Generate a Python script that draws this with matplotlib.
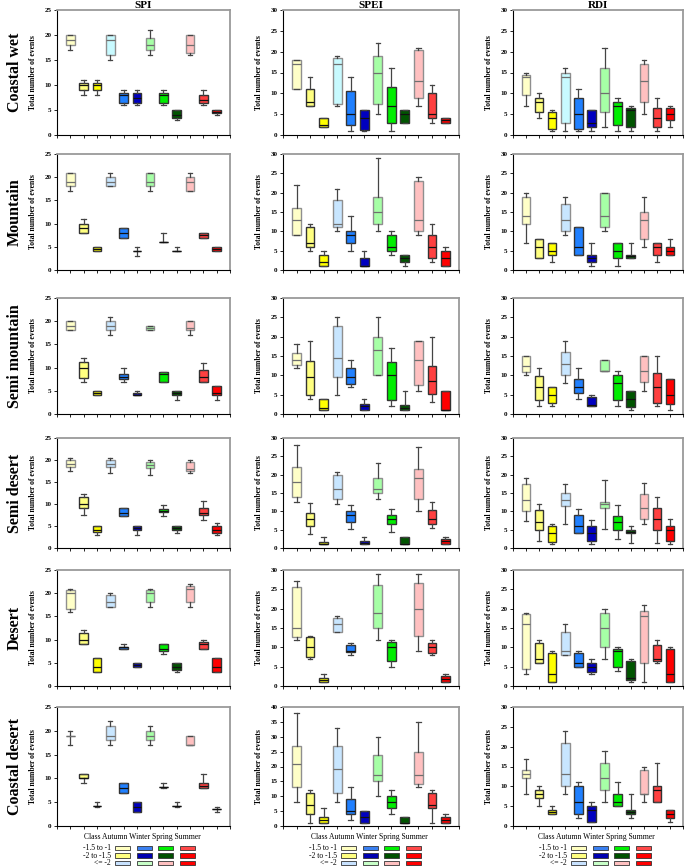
import matplotlib
matplotlib.use("Agg")
import matplotlib.pyplot as plt
from matplotlib.patches import Rectangle

plt.rcParams['font.family'] = ['Liberation Serif', 'DejaVu Serif']

regions = ["Coastal wet", "Mountain", "Semi mountain", "Semi desert", "Desert", "Coastal desert"]
indices = ["SPI", "SPEI", "RDI"]
season_text = ["Class", "Autumn", "Winter", "Spring", "Summer"]
legend_labels = ["-1.5 to -1", "-2 to -1.5", "<= -2"]

box_colors = ['#FFFFC8', '#FFFF80', '#FFFF00',
              '#C8E6FF', '#2080FF', '#0000C0',
              '#A6FFA6', '#00EE00', '#005500',
              '#FFC0C0', '#FF4040', '#FF0000']
first_row_light_blue = '#C8FAFF'
legend_colors = [['#FFFFC0', '#3A80F0', '#00F000', '#FF4848'],
                 ['#FFFF80', '#0000B0', '#005000', '#FF0000'],
                 ['#C8E2FF', '#C8FFC8', '#FFC0C0', '#FF0000']]

# each box: (whisker low, q1, median, q3, whisker high)
cw_spi = [(17, 18, 19, 20, 20), (8, 9, 10, 10.5, 11), (8, 9, 10, 10.5, 11),
          (15, 16, 19, 20, 20), (6, 6.5, 8, 8.5, 9), (6, 6.5, 7.5, 8.5, 9),
          (16, 17, 18, 19.5, 21), (6, 6.5, 8, 8.5, 9), (3, 3.5, 4, 5, 5),
          (16, 16.5, 18, 20, 20), (6, 6.5, 7, 8, 9), (4, 4.5, 4.7, 5, 5)]
cw_spei = [(11, 11, 17, 18, 18), (7, 7, 8, 11, 14), (2, 2, 2.5, 4, 4),
           (7, 7.5, 17, 18.5, 19), (1, 2.5, 5, 10.5, 14), (1, 1.2, 4, 6, 6),
           (5, 7.5, 15, 19, 22), (1, 3, 7, 11.5, 16), (3, 3, 5, 6, 6),
           (7, 9, 13, 20.5, 21), (3, 4, 5, 10, 12), (3, 3, 3.5, 4, 4)]
cw_rdi = [(7, 9.5, 14, 14.5, 15), (4, 5.5, 8, 9, 10), (1, 1.5, 4, 5.5, 6),
          (1, 3, 14, 15, 16), (1, 1.5, 5, 9, 11), (1, 2, 3, 6, 6),
          (2, 5.5, 10, 16, 21), (1, 2.5, 7, 8, 9), (1, 2, 6, 6.5, 7),
          (5, 8, 13, 17, 18), (1, 2, 4, 6.5, 9), (2, 3.5, 5, 6.5, 7)]

mo_spi = [(17, 18, 19, 21, 21), (8, 8, 9, 10, 11), (4, 4, 4.5, 5, 5),
          (18, 18, 19, 20, 21), (7, 7, 8, 9, 9), (3, 4, 4, 4, 5),
          (17, 18, 19, 21, 21), (6, 6, 6, 6, 8), (4, 4, 4, 4, 5),
          (17, 17, 19, 20, 21), (7, 7, 7.5, 8, 8), (4, 4, 4.5, 5, 5)]
mo_spei = [(9, 9, 13, 16, 22), (5, 6, 7, 11, 12), (1, 1, 2, 4, 5),
           (10, 11, 12, 18, 21), (5, 7, 9, 10, 14), (1, 1, 1, 3, 5),
           (10, 12, 15, 19, 29), (4, 5, 6, 9, 10), (1, 2, 3, 4, 4),
           (9, 10, 13, 23, 24), (2, 3, 6, 9, 12), (1, 1, 3, 5, 6)]
mo_rdi = [(7, 12, 14, 19, 20), (3, 3, 6, 8, 8), (2, 4, 5, 7, 7),
          (9, 10, 13, 17, 19), (4, 4, 6, 11, 11), (1, 2, 3, 4, 7),
          (10, 11, 14, 20, 20), (1, 3, 5, 7, 7), (3, 3, 3.5, 4, 7),
          (6, 8, 13, 15, 19), (2, 4, 6, 7, 7), (4, 4, 5, 6, 8)]

sm_spi = [(18, 18, 19, 20, 20), (7, 7.7, 10, 11.3, 12), (4, 4, 4.5, 5, 5),
          (17, 18, 19, 20, 21), (7, 7.6, 8, 8.6, 10), (4, 4, 4.2, 4.5, 5),
          (18, 18, 18.5, 19, 19), (7, 7, 8.7, 9, 9), (3, 4, 4.5, 5, 5),
          (17, 18, 18.5, 20, 20), (7, 7, 8, 9.5, 11), (3, 4, 4.5, 6, 6)]
sm_spei = [(12, 12.8, 14, 15.8, 18), (4, 4.8, 9.5, 13.8, 19), (1, 1, 1.5, 4, 4),
           (5, 9.5, 14.5, 22.8, 25), (7, 7.8, 9.5, 11.8, 14), (1, 1, 2, 2.7, 4),
           (10, 10, 16.5, 19.8, 25), (2, 3.5, 10, 13.4, 17), (1, 1, 1.5, 2.4, 6),
           (6, 7.6, 14, 19, 19), (3, 5.2, 8.6, 12.5, 20), (1, 1, 1, 6, 6)]
sm_rdi = [(10, 10.8, 12.5, 15, 15), (2, 3.6, 7, 9.8, 12), (2, 2.9, 5, 7, 7),
          (8, 10.2, 13, 16, 19), (4, 5.4, 7, 9, 12), (2, 2, 2.2, 4.3, 5),
          (11, 11, 11, 14, 14), (2, 3.6, 8, 10.2, 11), (1, 1.8, 4, 6, 6),
          (6, 8.2, 11, 15, 15), (2, 2.8, 7, 10.5, 15), (1, 2.5, 5, 9, 9)]

sd_spi = [(17.5, 18.5, 19, 20, 20.5), (7.4, 9.2, 10, 11.7, 12.2), (3, 3.6, 4.2, 5, 5),
          (17, 18.5, 19.2, 20, 20.5), (7.2, 7.2, 8, 9.2, 9.2), (3, 4, 4.5, 5, 5),
          (16.5, 18.2, 18.8, 19.5, 20), (7.2, 8.2, 8.5, 8.8, 9.8), (3.5, 4, 4.5, 5, 5),
          (17, 17.5, 18, 19.6, 20), (6.4, 7.5, 8, 9.2, 10.6), (3, 3.5, 4.2, 5, 5.6)]
sd_spei = [(12.5, 14, 18, 22.2, 28), (3.9, 6, 8, 9.5, 12.2), (1, 1, 1.2, 1.6, 3),
           (12, 13.5, 16, 20, 20.6), (5.2, 7, 9, 10, 11.6), (1, 1, 1.5, 2, 3),
           (13.5, 15, 16, 19, 23.3), (4.5, 6.5, 8, 9, 10.6), (1, 1, 1, 3, 3),
           (10.2, 13.5, 19, 21.5, 27.6), (5.5, 6.5, 8, 10.5, 12.5), (1, 1, 2, 2.5, 3)]
sd_rdi = [(7.3, 10, 13, 17.5, 19.2), (1.8, 5, 7, 10.5, 12), (1, 1.6, 4, 6, 6.5),
          (6.5, 11.5, 13, 15, 17.4), (4, 4, 6, 9, 10.6), (1, 2, 4, 6, 7.6),
          (5.2, 11, 12, 12.5, 18.5), (2.5, 5, 7, 8.6, 11.7), (1.5, 4, 4.5, 5, 6),
          (6.5, 8, 11, 14.6, 17.7), (1.5, 5, 8, 11, 13.8), (1, 2, 5, 6, 7.8)]

de_spi = [(16, 16.5, 20, 20.6, 21), (9, 9, 10, 11.5, 12), (3, 3, 4, 6, 6),
          (17, 17, 18, 19.6, 20), (8, 8, 8.3, 8.5, 9), (4, 4, 4.5, 5, 5),
          (17, 18, 20, 20.6, 21), (7, 7.5, 8, 9, 9), (3, 3.5, 4, 5, 5),
          (17, 18, 21, 21.5, 22), (8, 8, 9, 9.5, 10), (3, 3, 4, 6, 6)]
de_spei = [(12, 12.6, 15, 25.6, 27.2), (7, 7.4, 10, 12.6, 13), (1, 1, 1.5, 2, 3),
           (14, 14, 16, 17.5, 18), (8, 8.7, 9, 10.6, 11), None,
           (12, 15, 19, 26, 29), (5, 6.5, 10, 11.5, 12), None,
           (9, 13, 20, 26.6, 29), (8, 8.6, 10, 11, 12), (1, 1, 1.8, 2.5, 3)]
de_rdi = [(3, 4.5, 16, 18.5, 19), (6, 6, 7, 11, 12), (1, 1, 3, 8.5, 9),
          (8, 8, 9, 14, 16), (5, 5, 6, 8.5, 9), (3, 3.5, 5, 6, 7),
          (7, 10, 15, 19, 20), (4, 5, 9, 9.5, 10), (1, 1.5, 2, 6.5, 7),
          (1, 6, 18, 19.5, 21), (6, 6.5, 7, 10.6, 12), (1, 1, 3, 9.5, 10)]

cd_spi = [(17, 19, 19, 19, 20), (9, 10, 10, 11, 11), (4, 4.3, 4.3, 4.3, 5),
          (17, 18, 19, 21, 22), (7, 7, 8, 9, 9), (3, 3, 4, 5, 5),
          (17, 18, 19, 20, 21), (8, 8.2, 8.2, 8.2, 9), (4, 4.3, 4.3, 4.3, 5),
          (17, 17, 17, 19, 19), (8, 8, 8.5, 9, 11), (3, 3.5, 3.5, 3.5, 4)]
cd_spei = [(8, 13, 21, 27, 38), (1, 4, 7, 11, 12), (1, 1, 2, 3, 6),
           (8, 11, 19, 27, 33), (2, 4, 5, 9, 13), (1, 1, 3, 5, 5),
           (10, 15, 17, 24, 30), (4, 6, 8, 10, 12), (1, 1, 1, 3, 3),
           (13, 14, 17, 25, 35), (1, 6, 7, 11, 12), (1, 1, 2, 3, 4)]
cd_rdi = [(8, 12, 13, 14, 17), (5, 7, 8, 9, 10), (3, 3, 3.5, 4, 5),
          (8, 10, 13, 21, 24), (2, 3, 6, 10, 11), (1, 1, 4, 5, 6),
          (6, 9, 12, 16, 19), (5, 5, 6, 8, 11), (2, 3, 3.5, 4, 8),
          (6, 8, 8, 14, 15), (6, 6, 9, 10, 16), (1, 2, 3, 4, 4)]

panel_data = [[cw_spi, cw_spei, cw_rdi],
              [mo_spi, mo_spei, mo_rdi],
              [sm_spi, sm_spei, sm_rdi],
              [sd_spi, sd_spei, sd_rdi],
              [de_spi, de_spei, de_rdi],
              [cd_spi, cd_spei, cd_rdi]]
y_max = [[25, 30, 30], [25, 30, 30], [25, 30, 30],
         [25, 30, 30], [25, 30, 30], [25, 40, 30]]

W, H = 685, 868
fig = plt.figure(figsize=(W / 100, H / 100), dpi=100)
fig.patch.set_facecolor('white')

col_x = [(57, 230), (283, 459), (513, 683)]
ylabel_x = [37, 263, 493]
row_y = [(10, 135), (154, 270), (298, 414), (438, 548), (570, 686), (707, 826)]

light = {0, 3, 6, 9}

for r in range(6):
    for c in range(3):
        x0, x1 = col_x[c]
        y0, y1 = row_y[r]
        ax = fig.add_axes([x0 / W, 1 - y1 / H, (x1 - x0) / W, (y1 - y0) / H])
        data = panel_data[r][c]
        stats, pos, idx = [], [], []
        for i, s in enumerate(data):
            if s is None:
                continue
            stats.append(dict(whislo=s[0], q1=s[1], med=s[2], q3=s[3], whishi=s[4], fliers=[]))
            pos.append(i + 1)
            idx.append(i)
        bp = ax.bxp(stats, positions=pos, widths=0.65, patch_artist=True,
                    showfliers=False, manage_ticks=False)
        for k, i in enumerate(idx):
            ec = '#8f8f8f' if i in light else '#333333'
            mc = '#6f6f6f' if i in light else '#111111'
            fc = box_colors[i]
            if r == 0 and i == 3:
                fc = first_row_light_blue
            b = bp['boxes'][k]
            b.set_facecolor(fc)
            b.set_edgecolor(ec)
            b.set_linewidth(1.0)
            bp['medians'][k].set_color(mc)
            bp['medians'][k].set_linewidth(0.9)
            for w in bp['whiskers'][2 * k:2 * k + 2]:
                w.set_color('#444444')
                w.set_linewidth(0.9)
            for cp in bp['caps'][2 * k:2 * k + 2]:
                cp.set_color('#444444')
                cp.set_linewidth(0.9)
        ax.set_xlim(0, 13)
        ax.set_ylim(0, y_max[r][c])
        ax.set_xticks(range(0, 14))
        ax.set_xticklabels([])
        ax.set_yticks(range(0, y_max[r][c] + 1, 5))
        ax.tick_params(axis='both', direction='out', length=2.5, width=0.6,
                       labelsize=5, pad=1.5)
        for lab in ax.get_yticklabels():
            lab.set_fontweight('bold')
        for side in ('left', 'bottom'):
            ax.spines[side].set_color('black')
            ax.spines[side].set_linewidth(0.8)
        for side in ('top', 'right'):
            ax.spines[side].set_color('#9a9a9a')
            ax.spines[side].set_linewidth(1.3)
        ax.set_ylabel('Total number of events', fontsize=5.5, fontweight='bold')
        ax.yaxis.set_label_coords(-(x0 - ylabel_x[c]) / (x1 - x0), 0.5)

        if r == 0:
            fig.text((x0 + x1) / 2 / W, 1 - 5 / H, indices[c], fontsize=8,
                     fontweight='bold', ha='center', va='center')
        if r == 5:
            fig.text((x0 + x1) / 2 / W - 0.002, 1 - 837 / H, " ".join(season_text),
                     fontsize=5.5, ha='center', va='center')
            for j, lab in enumerate(legend_labels):
                yc = 848 + j * 7.5
                fig.text((x0 + 54) / W, 1 - yc / H, lab, fontsize=5.5,
                         ha='right', va='center')
                for k in range(4):
                    rx = x0 + 58 + k * 21.5
                    fig.add_artist(Rectangle((rx / W, 1 - (yc + 2.3) / H), 15 / W, 4.6 / H,
                                             transform=fig.transFigure,
                                             facecolor=legend_colors[j][k],
                                             edgecolor='#333333', linewidth=0.6))

for r in range(6):
    y0, y1 = row_y[r]
    fig.text(15 / W, 1 - ((y0 + y1) / 2) / H, regions[r], rotation=90,
             fontsize=11.5, fontweight='bold', ha='center', va='center')

fig.savefig('out.png', dpi=100, facecolor='white')
